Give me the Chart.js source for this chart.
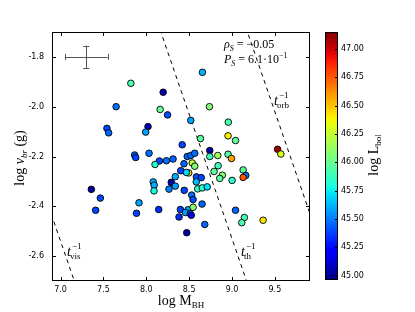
<!DOCTYPE html>
<html>
<head>
<meta charset="utf-8">
<script src="https://cdn.jsdelivr.net/npm/chart.js@4/dist/chart.umd.min.js"></script>
<style>
  html, body { margin: 0; padding: 0; background: #fff; }
  canvas { display: block; }
</style>
</head>
<body>
<canvas id="chart" width="415" height="312"></canvas>
<script>
// log M_BH, log nu_br and log L_bol for each source
const mbh = [7.82, 8.655, 8.197, 7.648, 8.162, 8.737, 8.248, 8.519, 8.957, 7.541,
  7.561, 8.020, 7.993, 8.632, 8.954, 9.041, 8.419, 8.741, 9.532, 9.570,
  7.864, 7.876, 8.032, 8.153, 8.102, 8.235, 8.312, 8.478, 8.519, 8.565,
  8.741, 8.834, 8.954, 8.994, 8.440, 8.536, 8.565, 8.838, 8.791, 8.402,
  8.495, 8.468, 8.585, 8.641, 8.887, 8.857, 9.130, 9.161, 9.130, 9.001,
  8.583, 8.081, 8.092, 8.090, 8.291, 8.338, 8.338, 8.265, 8.443, 8.600,
  8.653, 8.711, 7.359, 7.464, 7.409, 8.530, 8.546, 8.651, 7.915, 7.886,
  8.145, 8.398, 8.487, 8.546, 8.457, 8.513, 8.525, 8.382, 8.682, 8.472,
  9.041, 9.144, 9.114, 9.363];
const nubr = [-1.906, -1.862, -1.942, -2.000, -2.011, -2.000, -2.033, -2.055, -2.062, -2.087,
  -2.105, -2.080, -2.102, -2.128, -2.117, -2.136, -2.153, -2.176, -2.171, -2.190,
  -2.194, -2.204, -2.187, -2.218, -2.232, -2.217, -2.210, -2.200, -2.196, -2.187,
  -2.200, -2.196, -2.191, -2.208, -2.229, -2.226, -2.239, -2.237, -2.260, -2.257,
  -2.266, -2.264, -2.282, -2.285, -2.275, -2.288, -2.254, -2.276, -2.284, -2.296,
  -2.302, -2.302, -2.315, -2.338, -2.304, -2.319, -2.281, -2.331, -2.336, -2.330,
  -2.326, -2.322, -2.332, -2.367, -2.416, -2.355, -2.373, -2.391, -2.386, -2.428,
  -2.413, -2.413, -2.414, -2.404, -2.425, -2.430, -2.436, -2.443, -2.473, -2.506,
  -2.416, -2.445, -2.466, -2.456];
const lbol = [45.93, 45.62, 45.03, 45.47, 45.99, 46.07, 45.40, 45.58, 45.92, 45.38,
  45.45, 45.05, 45.58, 45.97, 46.40, 45.97, 45.38, 45.04, 47.10, 46.32,
  45.44, 45.38, 45.47, 45.38, 45.81, 45.47, 45.45, 45.45, 45.45, 45.47,
  45.90, 46.15, 45.93, 46.58, 45.45, 46.23, 46.07, 45.90, 45.97, 45.38,
  46.40, 45.70, 45.40, 45.38, 46.07, 45.97, 45.97, 45.47, 46.76, 45.85,
  45.64, 45.62, 45.60, 45.78, 45.05, 45.58, 45.60, 45.51, 45.38, 45.88,
  45.82, 45.72, 45.02, 45.38, 45.38, 45.47, 45.40, 45.45, 45.58, 45.38,
  45.33, 45.38, 45.58, 46.10, 45.58, 45.45, 45.15, 45.33, 45.45, 45.03,
  45.45, 45.90, 45.93, 46.42];

// dashed timescale lines, end points
const visLine = [{x: 6.8, y: -2.34}, {x: 7.3, y: -2.84}];
const thLine = [{x: 8.1, y: -1.63}, {x: 9.3, y: -2.83}];
const orbLine = [{x: 9.1, y: -1.62}, {x: 10.0, y: -2.52}];

// typical error bar
const errX = 7.3, errY = -1.8, errDx = 0.25, errDy = 0.045;

const xTicks = [7.0, 7.5, 8.0, 8.5, 9.0, 9.5];
const yTicks = [-2.6, -2.4, -2.2, -2.0, -1.8];
const cbTicks = [45.00, 45.25, 45.50, 45.75, 46.00, 46.25, 46.50, 46.75, 47.00];
const cbMin = 44.96, cbMax = 47.15;

// matplotlib "jet"
function interp(t, pts) {
  for (let i = 1; i < pts.length; i++) {
    if (t <= pts[i][0]) {
      const [x0, y0] = pts[i - 1], [x1, y1] = pts[i];
      return y0 + (y1 - y0) * (t - x0) / (x1 - x0);
    }
  }
  return pts[pts.length - 1][1];
}
function jet(t) {
  t = Math.max(0, Math.min(1, t));
  const r = interp(t, [[0, 0], [0.35, 0], [0.66, 1], [0.89, 1], [1, 0.5]]);
  const g = interp(t, [[0, 0], [0.125, 0], [0.375, 1], [0.64, 1], [0.91, 0], [1, 0]]);
  const b = interp(t, [[0, 0.5], [0.11, 1], [0.34, 1], [0.65, 0], [1, 0]]);
  return `rgb(${Math.round(r * 255)},${Math.round(g * 255)},${Math.round(b * 255)})`;
}
const colorOf = v => jet((v - cbMin) / (cbMax - cbMin));

const points = mbh.map((m, i) => ({x: m, y: nubr[i]}));

const SERIF = "'Liberation Serif', 'DejaVu Serif', serif";
const SANS = "'DejaVu Sans', sans-serif";

// draw a run of text pieces: [text, size, italic, dy]
function rich(ctx, x, y, parts, align) {
  let w = 0;
  parts.forEach(p => {
    ctx.font = (p[2] ? 'italic ' : '') + p[1] + 'px ' + SERIF;
    w += ctx.measureText(p[0]).width;
  });
  let cx = align === 'center' ? x - w / 2 : x;
  parts.forEach(p => {
    ctx.font = (p[2] ? 'italic ' : '') + p[1] + 'px ' + SERIF;
    ctx.fillText(p[0], cx, y + (p[3] || 0));
    cx += ctx.measureText(p[0]).width;
  });
}

const decor = {
  id: 'decor',
  afterDraw(chart) {
    const {ctx, chartArea: a, scales: {x, y}} = chart;
    ctx.save();
    ctx.strokeStyle = '#000';
    ctx.lineWidth = 1;
    ctx.strokeRect(Math.round(a.left) + 0.5, Math.round(a.top) + 0.5,
      Math.round(a.right - a.left) - 1, Math.round(a.bottom - a.top) - 1);

    // inward ticks on all sides
    ctx.beginPath();
    xTicks.forEach(v => {
      const px = Math.round(x.getPixelForValue(v)) + 0.5;
      ctx.moveTo(px, a.bottom); ctx.lineTo(px, a.bottom - 4);
      ctx.moveTo(px, a.top); ctx.lineTo(px, a.top + 4);
    });
    yTicks.forEach(v => {
      const py = Math.round(y.getPixelForValue(v)) + 0.5;
      ctx.moveTo(a.left, py); ctx.lineTo(a.left + 4, py);
      ctx.moveTo(a.right, py); ctx.lineTo(a.right - 4, py);
    });
    ctx.stroke();

    // error bar
    ctx.strokeStyle = '#555';
    const ex = x.getPixelForValue(errX), ey = y.getPixelForValue(errY);
    const ex0 = x.getPixelForValue(errX - errDx), ex1 = x.getPixelForValue(errX + errDx);
    const ey0 = y.getPixelForValue(errY + errDy), ey1 = y.getPixelForValue(errY - errDy);
    ctx.beginPath();
    ctx.moveTo(ex0, Math.round(ey) + 0.5); ctx.lineTo(ex1, Math.round(ey) + 0.5);
    ctx.moveTo(Math.round(ex) + 0.5, ey0); ctx.lineTo(Math.round(ex) + 0.5, ey1);
    ctx.moveTo(Math.round(ex0) + 0.5, ey - 3); ctx.lineTo(Math.round(ex0) + 0.5, ey + 3);
    ctx.moveTo(Math.round(ex1) + 0.5, ey - 3); ctx.lineTo(Math.round(ex1) + 0.5, ey + 3);
    ctx.moveTo(ex - 3, Math.round(ey0) + 0.5); ctx.lineTo(ex + 3, Math.round(ey0) + 0.5);
    ctx.moveTo(ex - 3, Math.round(ey1) + 0.5); ctx.lineTo(ex + 3, Math.round(ey1) + 0.5);
    ctx.stroke();

    // annotations
    ctx.fillStyle = '#000';
    ctx.textBaseline = 'alphabetic';
    ctx.textAlign = 'left';
    rich(ctx, 224, 48, [['ρ', 12, true], ['S', 8, true, 3], [' = −0.05', 12, false]]);
    rich(ctx, 224, 63, [['P', 12, true], ['S', 8, true, 3], [' = 6.1·10', 12, false], ['−1', 8, false, -5]]);
    const tlab = (px, py, sub) => {
      ctx.font = 'italic 14px ' + SERIF;
      ctx.fillText('t', px, py);
      const w = ctx.measureText('t').width;
      ctx.font = '9px ' + SERIF;
      ctx.fillText('−1', px + w + 1, py - 7);
      ctx.fillText(sub, px + w - 1, py + 3);
    };
    tlab(67, 256, 'vis');
    tlab(241, 256, 'th');
    tlab(274, 105, 'orb');

    // axis titles
    rich(ctx, 181, 305, [['log M', 14, false], ['BH', 9, false, 3]], 'center');
    ctx.save();
    ctx.translate(24, 158);
    ctx.rotate(-Math.PI / 2);
    rich(ctx, 0, 0, [['log ', 14, false], ['ν', 14, true], ['br', 9, true, 3], [' (g)', 14, false]], 'center');
    ctx.restore();

    // colorbar
    const cb = {left: 325, right: 338, top: 32, bottom: 280};
    const grad = ctx.createLinearGradient(0, cb.bottom, 0, cb.top);
    for (let i = 0; i <= 40; i++) grad.addColorStop(i / 40, jet(i / 40));
    ctx.fillStyle = grad;
    ctx.fillRect(cb.left, cb.top, cb.right - cb.left, cb.bottom - cb.top);
    ctx.strokeStyle = '#000';
    ctx.strokeRect(cb.left + 0.5, cb.top + 0.5, cb.right - cb.left - 1, cb.bottom - cb.top - 1);
    ctx.fillStyle = '#000';
    ctx.font = '8px ' + SANS;
    ctx.textBaseline = 'middle';
    ctx.beginPath();
    cbTicks.forEach(v => {
      const py = cb.bottom - (v - cbMin) / (cbMax - cbMin) * (cb.bottom - cb.top);
      ctx.moveTo(cb.right - 3, Math.round(py) + 0.5); ctx.lineTo(cb.right, Math.round(py) + 0.5);
      ctx.fillText(v.toFixed(2), cb.right + 3, py);
    });
    ctx.stroke();
    ctx.textBaseline = 'alphabetic';
    ctx.save();
    ctx.translate(378, 155);
    ctx.rotate(-Math.PI / 2);
    rich(ctx, 0, 0, [['log L', 14, false], ['bol', 9, false, 3]], 'center');
    ctx.restore();

    ctx.restore();
  }
};

const dashed = data => ({
  data, showLine: true, borderColor: '#000', borderWidth: 1, borderDash: [4, 4],
  pointRadius: 0, fill: false
});

new Chart(document.getElementById('chart'), {
  type: 'scatter',
  data: {
    datasets: [
      {
        data: points,
        backgroundColor: lbol.map(colorOf),
        borderColor: '#000',
        borderWidth: 0.9,
        pointRadius: 3.3,
        pointHoverRadius: 3.3
      },
      dashed(visLine),
      dashed(thLine),
      dashed(orbLine)
    ]
  },
  options: {
    responsive: false,
    animation: false,
    devicePixelRatio: 1,
    layout: {padding: {top: 32, right: 105, left: 0, bottom: 0}},
    plugins: {legend: {display: false}, tooltip: {enabled: false}},
    scales: {
      x: {
        type: 'linear', min: 6.9, max: 9.91,
        afterBuildTicks: s => { s.ticks = xTicks.map(v => ({value: v})); },
        afterFit: s => { s.height = 31; },
        grid: {display: false, drawTicks: false},
        border: {display: false},
        ticks: {font: {family: SANS, size: 8}, color: '#000', padding: 4,
          maxRotation: 0, autoSkip: false, callback: v => v.toFixed(1)}
      },
      y: {
        type: 'linear', min: -2.7, max: -1.7,
        afterBuildTicks: s => { s.ticks = yTicks.map(v => ({value: v})); },
        afterFit: s => { s.width = 52; },
        grid: {display: false, drawTicks: false},
        border: {display: false},
        ticks: {font: {family: SANS, size: 8}, color: '#000', padding: 8,
          autoSkip: false, callback: v => v.toFixed(1)}
      }
    }
  },
  plugins: [decor]
});
</script>
</body>
</html>
